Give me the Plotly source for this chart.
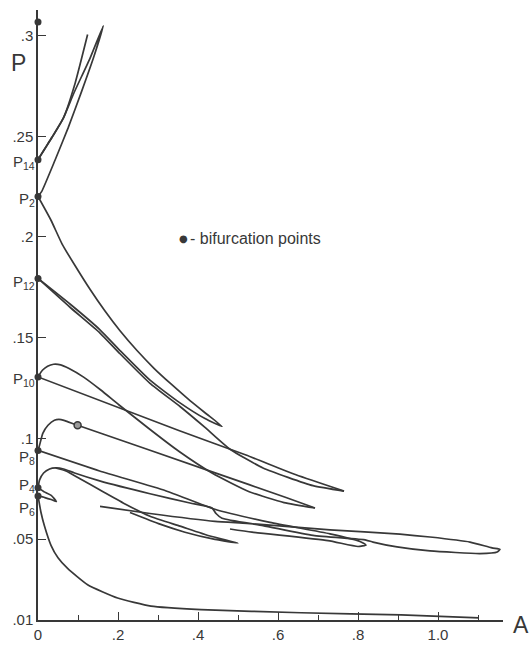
import plotly.graph_objects as go

# ---------------- data (A, P) ----------------
bif_A = [0, 0, 0, 0, 0, 0, 0, 0]
bif_P = [0.3067, 0.2384, 0.2201, 0.1794, 0.1305, 0.0940, 0.0755, 0.0714]
ring_A = [0.099]
ring_P = [0.1065]

# P14 branch ending near top
t1_A = [0, 0.035, 0.064, 0.093, 0.124]
t1_P = [0.2384, 0.2495, 0.2593, 0.2765, 0.3005]
# P14 -> tip -> P2
t2_A = [0, 0.035, 0.064, 0.090, 0.130, 0.1633, 0.1383, 0.1093, 0.0758, 0.0425, 0.009, 0]
t2_P = [0.2384, 0.2495, 0.2593, 0.2716, 0.2887, 0.3049, 0.2887, 0.2724, 0.2544, 0.2381, 0.2225, 0.2201]
# P2 outer curve -> tip -> back to P12 (upper of double line)
o_A = [0, 0.0325, 0.060, 0.0925, 0.130, 0.1675, 0.205, 0.2475, 0.290, 0.3325, 0.375, 0.4175, 0.460,
       0.4175, 0.355, 0.280, 0.205, 0.155, 0.080, 0]
o_P = [0.2201, 0.2083, 0.1966, 0.1858, 0.1740, 0.1632, 0.1534, 0.1436, 0.1348, 0.1270, 0.1196, 0.1127, 0.1059,
       0.1098, 0.1176, 0.1289, 0.1436, 0.1539, 0.1667, 0.1794]
# P12 lower line -> tip A
d2_A = [0, 0.080, 0.155, 0.205, 0.280, 0.355, 0.4175, 0.480, 0.5625, 0.6875, 0.765]
d2_P = [0.1794, 0.1651, 0.1523, 0.1420, 0.1273, 0.1158, 0.1054, 0.0946, 0.0853, 0.0765, 0.0738]
# P10 straight -> tip A
s10_A = [0, 0.352, 0.52, 0.645, 0.765]
s10_P = [0.1305, 0.1039, 0.0917, 0.0819, 0.0738]
# P10 bump -> tip B
b10_A = [0, 0.011, 0.024, 0.039, 0.0565, 0.0765, 0.114, 0.157, 0.202, 0.277, 0.352, 0.435, 0.528, 0.615, 0.6925]
b10_P = [0.1305, 0.1338, 0.1358, 0.1368, 0.1365, 0.1348, 0.1304, 0.1240, 0.1167, 0.1049, 0.0936, 0.0828, 0.0735, 0.0681, 0.0654]
# P8 bump -> ring point -> tip B
b8_A = [0, 0.004, 0.012, 0.025, 0.041, 0.058, 0.075, 0.099, 0.441, 0.62, 0.6925]
b8_P = [0.0940, 0.0967, 0.1025, 0.1065, 0.1090, 0.1093, 0.1082, 0.1065, 0.0830, 0.0706, 0.0654]
# P8 straight -> tip C and back
s8_A = [0, 0.154, 0.319, 0.442, 0.58, 0.73, 0.805, 0.82, 0.80, 0.725, 0.535, 0.48]
s8_P = [0.0940, 0.0838, 0.0740, 0.0648, 0.0583, 0.0526, 0.0488, 0.0470, 0.0463, 0.0492, 0.0534, 0.0550]
# P4 upper branch -> kink -> long loop -> free end
u4_A = [0, 0.004, 0.014, 0.029, 0.044, 0.064, 0.0915, 0.154, 0.28, 0.38, 0.435, 0.445, 0.46, 0.5625, 0.6875,
        0.82, 0.8375, 0.8975, 0.98, 1.105, 1.148, 1.155, 1.135, 1.08, 0.98, 0.905, 0.73, 0.5225, 0.4425, 0.28, 0.155]
u4_P = [0.0755, 0.0794, 0.0828, 0.0848, 0.0853, 0.0848, 0.0828, 0.0789, 0.0725, 0.0679, 0.0654, 0.0627, 0.0603, 0.0567, 0.0518,
        0.0495, 0.0485, 0.0461, 0.0441, 0.0428, 0.0436, 0.0449, 0.0456, 0.0485, 0.0510, 0.0524, 0.0546, 0.0578, 0.0588, 0.0627, 0.0662]
# P4 lower branch -> small loop
l4_A = [0.044, 0.07, 0.105, 0.154, 0.22, 0.28, 0.355, 0.43, 0.5, 0.4425, 0.3675, 0.305, 0.23]
l4_P = [0.0853, 0.0838, 0.0799, 0.0745, 0.0672, 0.0613, 0.0564, 0.0515, 0.0480, 0.0498, 0.0534, 0.0574, 0.0632]
# small hook between P4 and P6
hk_A = [0, 0.017, 0.033, 0.046, 0.033, 0.017, 0]
hk_P = [0.0755, 0.0733, 0.0717, 0.0686, 0.0696, 0.0706, 0.0714]
# P6 decaying curve
d6_A = [0, 0.0075, 0.016, 0.0325, 0.05, 0.074, 0.124, 0.199, 0.2825, 0.4075, 0.6575, 0.9075, 1.1025]
d6_P = [0.0714, 0.0632, 0.0566, 0.0469, 0.0407, 0.0354, 0.0273, 0.0207, 0.0167, 0.0150, 0.0134, 0.0123, 0.0109]

x_tickvals = [0, 0.2, 0.4, 0.6, 0.8, 1.0]
x_ticktext = ["0", ".2", ".4", ".6", ".8", "1.0"]
x_minor = [0.1, 0.3, 0.5, 0.7, 0.9, 1.1]
y_tickvals = [0.01, 0.05, 0.1, 0.15, 0.2, 0.25, 0.3]
y_ticktext = [".01", ".05", ".1", ".15", ".2", ".25", ".3"]

p_labels = ["P<sub>14</sub>", "P<sub>2</sub>", "P<sub>12</sub>", "P<sub>10</sub>", "P<sub>8</sub>", "P<sub>4</sub>", "P<sub>6</sub>"]
p_label_P = [0.2370, 0.2185, 0.1775, 0.1290, 0.0905, 0.0768, 0.0650]

legend_key_A, legend_key_P = 0.3625, 0.199
legend_text = "- bifurcation points"

# ---------------- figure ----------------
INK = "#383838"
FONT = "Liberation Sans"
fig = go.Figure()

def curve(a, p):
    fig.add_trace(go.Scatter(x=a, y=p, mode="lines",
                             line=dict(color=INK, width=1.7, shape="spline", smoothing=0.5),
                             hoverinfo="skip", showlegend=False))

for a, p in [(t1_A, t1_P), (t2_A, t2_P), (o_A, o_P), (d2_A, d2_P), (s10_A, s10_P),
             (b10_A, b10_P), (b8_A, b8_P), (s8_A, s8_P), (u4_A, u4_P), (l4_A, l4_P),
             (hk_A, hk_P), (d6_A, d6_P)]:
    curve(a, p)

fig.add_trace(go.Scatter(x=bif_A, y=bif_P, mode="markers", cliponaxis=False,
                         marker=dict(color=INK, size=7), hoverinfo="skip", showlegend=False))
fig.add_trace(go.Scatter(x=ring_A, y=ring_P, mode="markers",
                         marker=dict(color="#9a9a9a", size=7, line=dict(color=INK, width=1.5)),
                         hoverinfo="skip", showlegend=False))

annotations = []
for t, y in zip(p_labels, p_label_P):
    annotations.append(dict(x=0, y=y, xref="paper", yref="y", xshift=-1, text=t, showarrow=False,
                            xanchor="right", yanchor="middle",
                            font=dict(family=FONT, size=15, color=INK)))
annotations.append(dict(x=legend_key_A, y=legend_key_P, xref="x", yref="y", text="●",
                        showarrow=False, xanchor="center", yanchor="middle",
                        font=dict(family="DejaVu Sans", size=10, color=INK)))
annotations.append(dict(x=legend_key_A, y=legend_key_P, xref="x", yref="y", xshift=5,
                        text=legend_text, showarrow=False, xanchor="left", yanchor="middle",
                        font=dict(family=FONT, size=16, color=INK)))
annotations.append(dict(x=0.0, y=0.2865, xref="paper", yref="y", xshift=-20, text="P", showarrow=False,
                        xanchor="center", yanchor="middle", font=dict(family=FONT, size=23, color=INK)))
annotations.append(dict(x=1.0, y=0.0103, xref="paper", yref="y", xshift=18, yshift=-6, text="A", showarrow=False,
                        xanchor="center", yanchor="middle", font=dict(family=FONT, size=23, color=INK)))

fig.update_layout(
    width=531, height=653,
    margin=dict(l=38, r=28, t=10, b=25),
    paper_bgcolor="white", plot_bgcolor="white",
    hovermode=False,
    annotations=annotations,
    xaxis=dict(range=[0, 1.1625], showgrid=False, zeroline=False, showline=True,
               linecolor=INK, linewidth=1.5, ticks="inside", ticklen=8, tickwidth=1.3, tickcolor=INK,
               tickvals=x_tickvals, ticktext=x_ticktext,
               minor=dict(tickvals=x_minor, ticks="inside", ticklen=5, tickwidth=1.2, tickcolor=INK),
               tickfont=dict(family=FONT, size=15, color=INK)),
    yaxis=dict(range=[0.0098, 0.3127], showgrid=False, zeroline=False, showline=True,
               linecolor=INK, linewidth=1.5, ticks="inside", ticklen=8, tickwidth=1.3, tickcolor=INK,
               tickvals=y_tickvals, ticktext=y_ticktext,
               tickfont=dict(family=FONT, size=15, color=INK)),
)

fig.write_html("out.html")
